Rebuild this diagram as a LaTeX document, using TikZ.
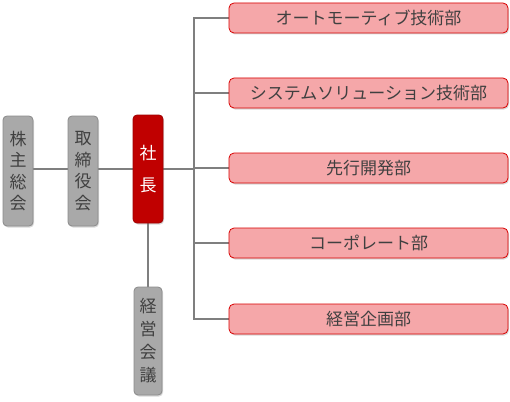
\documentclass[tikz,border=0pt]{standalone}
\usepackage{fontspec}
\setmainfont{Noto Sans CJK JP}
\usetikzlibrary{shadows}
\definecolor{linegray}{HTML}{7F7F7F}
\definecolor{boxgray}{HTML}{A9A9A9}
\definecolor{boxgrayedge}{HTML}{8A8A8A}
\definecolor{darktext}{HTML}{404040}
\definecolor{bossred}{HTML}{C00000}
\definecolor{bossedge}{HTML}{A00000}
\definecolor{pinkfill}{HTML}{F5A7A9}
\definecolor{pinkedge}{HTML}{D80000}
\pgfdeclarelayer{bg}
\pgfsetlayers{bg,main}
\begin{document}
\begin{tikzpicture}[x=1pt,y=-1pt,
  conn/.style={draw=linegray,line width=2.6pt},
  vbox/.style={draw=boxgrayedge,fill=boxgray,line width=0.8pt,rounded corners=4pt,
    minimum width=30pt,minimum height=110pt,inner sep=0pt,align=center,text=darktext,
    font=\fontsize{17}{21.5}\selectfont,
    drop shadow={shadow xshift=1pt,shadow yshift=-1.5pt,opacity=0.3}},
  bossbox/.style={draw=bossedge,fill=bossred,line width=0.8pt,rounded corners=4pt,
    minimum width=30pt,minimum height=108pt,inner sep=0pt,align=center,text=white,
    font=\fontsize{17}{32}\selectfont,
    drop shadow={shadow xshift=1pt,shadow yshift=-1.5pt,opacity=0.3}},
  dept/.style={draw=pinkedge,fill=pinkfill,line width=0.8pt,rounded corners=5pt,
    minimum width=279pt,minimum height=30pt,inner sep=0pt,text=darktext,
    font=\fontsize{17}{20}\selectfont,
    drop shadow={shadow xshift=1pt,shadow yshift=-1.5pt,opacity=0.3}}]
\useasboundingbox (0,0) rectangle (510,401);
\node[vbox] (kabu) at (18,171) {株\\主\\総\\会};
\node[vbox] (tori) at (83,171) {取\\締\\役\\会};
\node[bossbox] (shacho) at (148,169) {社\\長};
\node[vbox,minimum width=28pt,minimum height=108pt,font=\fontsize{17}{23}\selectfont] (keiei) at (148,341) {経\\営\\会\\議};
\node[dept] (d1) at (368.5,18) {オートモーティブ技術部};
\node[dept] (d2) at (368.5,93) {システムソリューション技術部};
\node[dept] (d3) at (368.5,168) {先行開発部};
\node[dept] (d4) at (368.5,243) {コーポレート部};
\node[dept] (d5) at (368.5,319) {経営企画部};
\coordinate (trunk) at (194,169);
\begin{pgfonlayer}{bg}
\draw[conn] (kabu.east |- trunk) -- (tori.west |- trunk);
\draw[conn] (tori.east |- trunk) -- (shacho.west |- trunk);
\draw[conn] (shacho.east |- trunk) -- (trunk);
\draw[conn] (shacho.south) -- (keiei.north);
\draw[conn] (d1.west) -| (d5.west -| trunk) -- (d5.west);
\draw[conn] (d2.west) -- (d2.west -| trunk);
\draw[conn] (d3.west) -- (d3.west -| trunk);
\draw[conn] (d4.west) -- (d4.west -| trunk);
\end{pgfonlayer}
\end{tikzpicture}
\end{document}
